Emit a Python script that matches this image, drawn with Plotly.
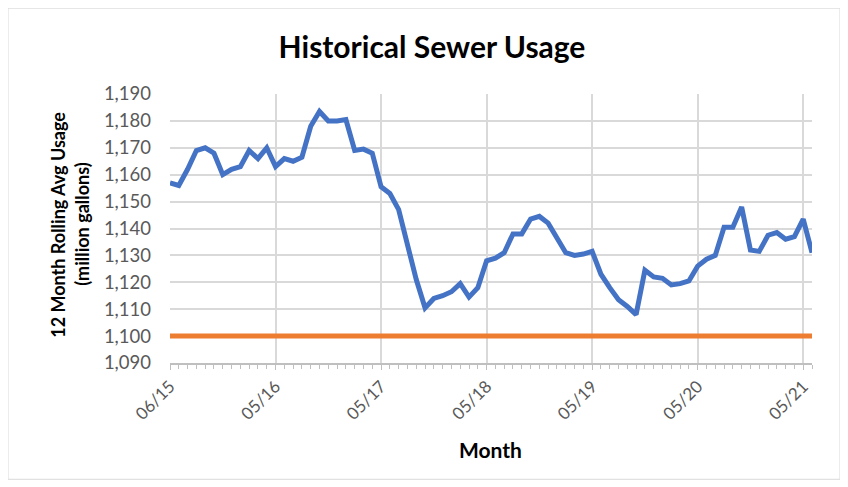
import plotly.graph_objects as go

# ---- data ----
tick_labels = ["06/15", "05/16", "05/17", "05/18", "05/19", "05/20", "05/21"]
usage = [
    1157, 1156, 1162, 1169, 1170, 1168, 1160, 1162, 1163, 1169,
    1166, 1170, 1163, 1166, 1165, 1166.5, 1178, 1183.5, 1180, 1180,
    1180.5, 1169, 1169.5, 1168, 1155.5, 1153, 1147, 1134, 1121, 1110.5,
    1114, 1115, 1116.5, 1119.5, 1114.5, 1118, 1128, 1129, 1131, 1138,
    1138, 1143.5, 1144.5, 1142, 1136.5, 1131, 1130, 1130.5, 1131.5, 1123,
    1118, 1113.5, 1111, 1108, 1124.5, 1122, 1121.5, 1119, 1119.5, 1120.5,
    1126, 1128.6, 1130, 1140.5, 1140.5, 1148, 1132, 1131.5, 1137.5, 1138.5,
    1136, 1137, 1143.5, 1131,
]
threshold_value = 1100
threshold = [threshold_value] * len(usage)
months = list(range(len(usage)))
tick_positions = [12 * i for i in range(len(tick_labels))]
y_title_lines = ["12 Month Rolling Avg Usage", "(million gallons)"]

BLUE = "#4472C4"
ORANGE = "#ED7D31"
GRID = "#D9D9D9"
TEXT = "#595959"
FONT = "Lato"

# page body has an 8px margin, so the figure is drawn 8px smaller
W, H = 840, 479
PL, PR, PT, PB = 162, 804, 86, 355.5  # plot area in figure px

fig = go.Figure()
fig.add_trace(go.Scatter(x=months, y=threshold, mode="lines",
                         line=dict(color=ORANGE, width=5), hoverinfo="skip",
                         showlegend=False))
fig.add_trace(go.Scatter(x=months, y=usage, mode="lines",
                         line=dict(color=BLUE, width=5), showlegend=False))

pw = PR - PL
ph = PB - PT

annotations = []
for line_text, px in zip(y_title_lines, [58, 82]):
    annotations.append(dict(
        text="<b>" + line_text + "</b>", xref="paper", yref="paper",
        x=(px - 8 - PL) / pw, y=(PB - (225 - 8)) / ph,
        xanchor="center", yanchor="middle", textangle=-90, showarrow=False,
        font=dict(family=FONT, size=18, color="#000000")))
annotations.append(dict(
    text="<b>Month</b>", xref="paper", yref="paper",
    x=(490 - 8 - PL) / pw, y=(PB - (450 - 8)) / ph,
    xanchor="center", yanchor="middle", showarrow=False,
    font=dict(family=FONT, size=21, color="#000000")))

fig.update_layout(
    width=W, height=H,
    margin=dict(l=PL, r=W - PR, t=PT, b=H - PB, autoexpand=False),
    paper_bgcolor="white", plot_bgcolor="white",
    font=dict(family=FONT, color=TEXT, size=14),
    title=dict(text="<b>Historical Sewer Usage</b>", x=(432 - 8) / W, xref="container",
               xanchor="center", y=1 - (47 - 8) / H, yanchor="middle",
               font=dict(family=FONT, size=30, color="#000000")),
    xaxis=dict(
        range=[0, len(usage) - 1],
        tickmode="array", tickvals=tick_positions, ticktext=tick_labels,
        tickangle=-45, showgrid=True, gridcolor=GRID, gridwidth=1.5,
        showline=True, linecolor="#BFBFBF", linewidth=1.5,
        ticks="outside", ticklen=5, tickcolor="#BFBFBF",
        minor=dict(tickmode="linear", tick0=0, dtick=1, ticks="outside",
                   ticklen=4, tickcolor="#BFBFBF", showgrid=False),
        tickfont=dict(family=FONT, size=17, color=TEXT),
        zeroline=False, fixedrange=True,
    ),
    yaxis=dict(
        range=[1090, 1190], dtick=10, tick0=1090, tickformat=",",
        showgrid=True, gridcolor=GRID, gridwidth=1.5,
        showline=False, zeroline=False, ticks="",
        ticklabelstandoff=18,
        tickfont=dict(family=FONT, size=18.5, color=TEXT),
    ),
    annotations=annotations,
    shapes=[
        dict(type="rect", xref="paper", yref="paper",
             x0=(0 - PL) / pw, x1=(832 - PL) / pw,
             y0=(PB - 472) / ph, y1=(PB - 0) / ph,
             line=dict(color="#D9D9D9", width=1), fillcolor="rgba(0,0,0,0)",
             layer="below"),
    ],
)

fig.write_html("out.html")
